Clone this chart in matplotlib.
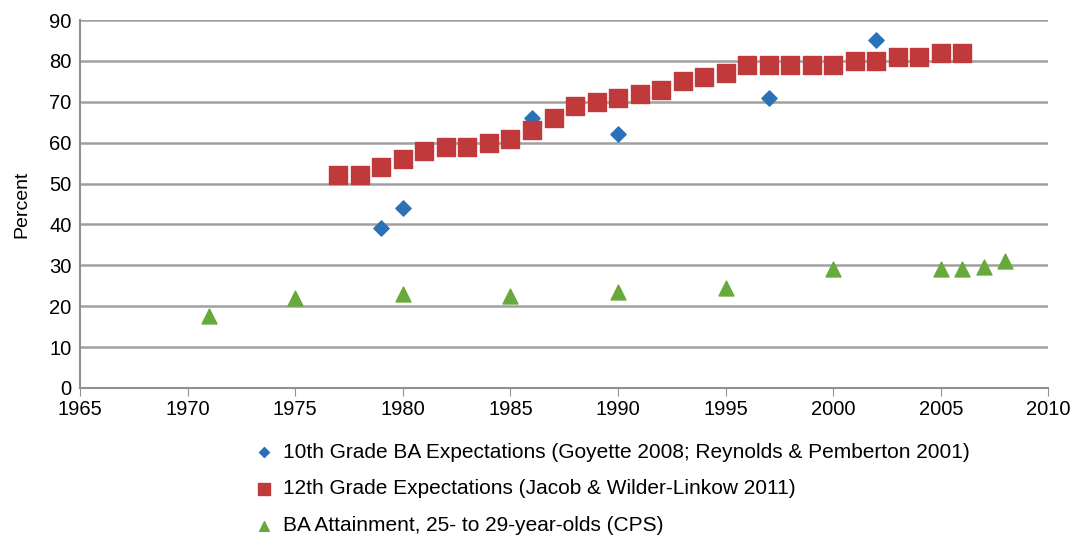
import matplotlib
matplotlib.use("Agg")
import matplotlib.pyplot as plt

plt.rcParams["font.family"] = ["Liberation Sans", "DejaVu Sans"]

# 10th grade BA expectations
g10_years = [1979, 1980, 1986, 1990, 1997, 2002]
g10_vals = [39, 44, 66, 62, 71, 85]

# 12th grade expectations
g12_years = list(range(1977, 2007))
g12_vals = [52, 52, 54, 56, 58, 59, 59, 60, 61, 63, 66, 69, 70, 71, 72,
            73, 75, 76, 77, 79, 79, 79, 79, 79, 80, 80, 81, 81, 82, 82]

# BA attainment, 25-29
ba_years = [1971, 1975, 1980, 1985, 1990, 1995, 2000, 2005, 2006, 2007, 2008]
ba_vals = [17.5, 22, 23, 22.5, 23.5, 24.5, 29, 29, 29, 29.5, 31]

labels = [
    "10th Grade BA Expectations (Goyette 2008; Reynolds & Pemberton 2001)",
    "12th Grade Expectations (Jacob & Wilder-Linkow 2011)",
    "BA Attainment, 25- to 29-year-olds (CPS)",
]

fig = plt.figure(figsize=(10.82, 5.41), dpi=100)
ax = fig.add_axes([0.074, 0.283, 0.895, 0.68])

ax.scatter(g10_years, g10_vals, marker="D", s=60, color="#2a72b8", label=labels[0], zorder=3)
ax.scatter(g12_years, g12_vals, marker="s", s=150, color="#c0393b", label=labels[1], zorder=3)
ax.scatter(ba_years, ba_vals, marker="^", s=115, color="#67a93a", label=labels[2], zorder=3)

ax.set_xlim(1965, 2010)
ax.set_ylim(0, 90)
ax.set_xticks(range(1965, 2011, 5))
ax.set_yticks(range(0, 91, 10))
ax.yaxis.grid(True, color="#a0a0a0", linewidth=1.8)
ax.set_axisbelow(True)
ax.tick_params(axis="both", labelsize=14.5, color="#909090")
ax.tick_params(axis="y", length=0, pad=6)
ax.tick_params(axis="x", length=6, pad=3)
for side in ("top", "right"):
    ax.spines[side].set_visible(False)
for side in ("left", "bottom"):
    ax.spines[side].set_color("#909090")
    ax.spines[side].set_linewidth(1.5)
ax.set_ylabel("Percent", fontsize=14, labelpad=14)

leg = fig.legend(loc="upper left", bbox_to_anchor=(0.227, 0.197), frameon=False,
                 fontsize=15, labelspacing=0.85, handletextpad=0.4,
                 markerscale=0.65, handlelength=1.0, borderaxespad=0)

fig.savefig("out.png", dpi=100)
